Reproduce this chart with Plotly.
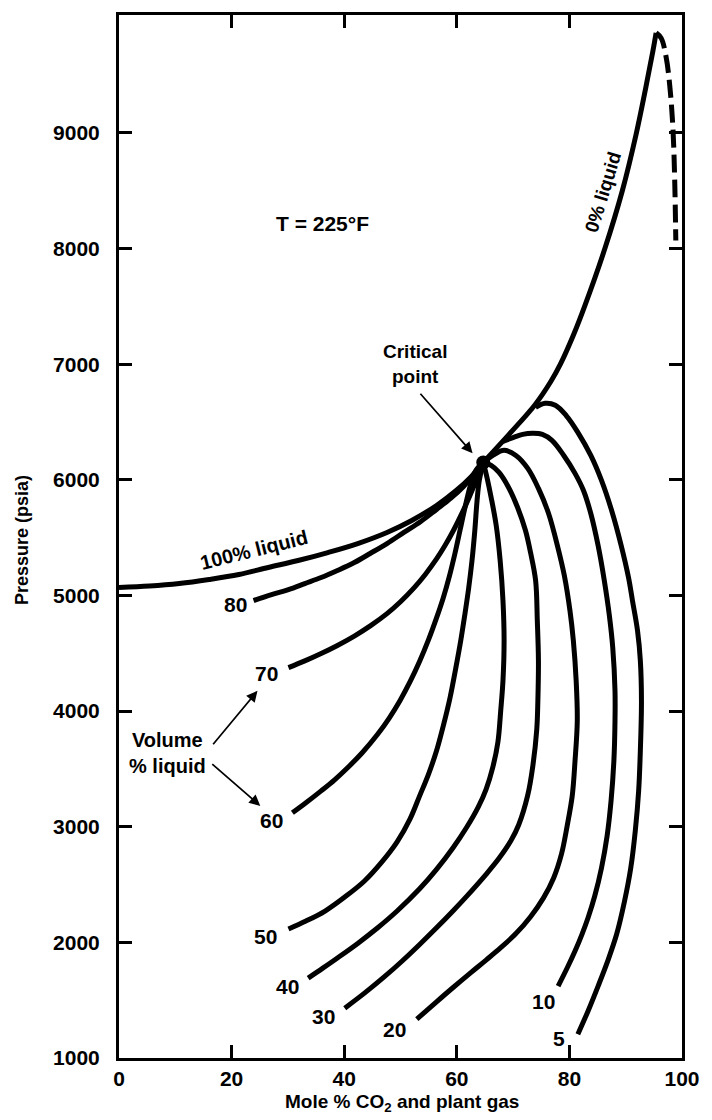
import plotly.graph_objects as go

# ---- data ----
crit_x = [64.7]
crit_y = [6150]

# 0% liquid (dew-point) line, solid part and dashed continuation
x_0 = [64.7, 69.4, 73.9, 76.7, 78.4, 80.7, 82.7, 86.3, 89.4, 91.9, 93.6, 94.8, 95.4]
y_0 = [6151, 6400, 6650, 6850, 7000, 7250, 7500, 8000, 8500, 9000, 9400, 9700, 9866]

x_0dash = [95.4, 96.3, 97.2, 97.9, 98.4, 98.7, 98.9]
y_0dash = [9866, 9820, 9650, 9370, 9030, 8600, 8070]

x_100 = [0, 5.4, 10.7, 16.0, 21.3, 26.5, 31.8, 37.1, 42.4, 47.6, 52.0, 56.4, 59.9, 62.6, 64.7]
y_100 = [5068, 5081, 5103, 5138, 5181, 5242, 5302, 5371, 5449, 5545, 5649, 5778, 5908, 6030, 6151]

x_80 = [23.9, 27.1, 30.1, 33.0, 35.9, 38.8, 41.8, 44.6, 47.6, 50.6, 53.6, 56.4, 58.9, 61.2, 62.9, 64.7]
y_80 = [4956, 5008, 5051, 5103, 5155, 5216, 5285, 5363, 5449, 5545, 5640, 5744, 5839, 5943, 6038, 6151]

x_70 = [30.1, 33.0, 35.9, 38.8, 41.8, 44.7, 47.6, 50.0, 52.4, 54.4, 56.4, 57.9, 59.4, 60.8, 62.2, 63.5, 64.7]
y_70 = [4376, 4434, 4498, 4568, 4649, 4739, 4843, 4946, 5066, 5182, 5316, 5432, 5562, 5699, 5850, 6003, 6151]

x_60 = [30.8, 33.2, 35.9, 38.3, 40.6, 43.2, 45.9, 48.0, 49.9, 51.7, 53.4, 55.0, 56.4, 57.6, 58.7, 59.7, 60.6, 61.5, 62.4, 63.4, 64.7]
y_60 = [3120, 3207, 3310, 3406, 3510, 3640, 3797, 3940, 4090, 4254, 4431, 4620, 4806, 4981, 5170, 5370, 5570, 5770, 5950, 6082, 6151]

x_50 = [30.1, 33.2, 36.6, 40.1, 43.6, 46.7, 49.4, 51.7, 53.4, 55.0, 56.4, 57.6, 58.8, 59.8, 60.7, 61.4, 62.1, 62.7, 63.2, 63.6, 64.0, 64.7]
y_50 = [2115, 2184, 2271, 2392, 2531, 2696, 2869, 3068, 3267, 3458, 3657, 3873, 4116, 4367, 4610, 4826, 5060, 5302, 5562, 5822, 5995, 6151]

x_40 = [33.6, 36.2, 38.8, 42.4, 45.9, 49.4, 53.4, 56.4, 59.4, 61.7, 63.8, 65.2, 66.4, 67.3, 67.8, 68.2, 68.4, 68.2, 67.7, 67.0, 66.1, 65.4, 64.7]
y_40 = [1691, 1777, 1865, 1991, 2124, 2271, 2463, 2631, 2823, 2991, 3170, 3324, 3516, 3732, 4003, 4263, 4610, 4956, 5302, 5605, 5848, 6012, 6151]

x_30 = [40.1, 43.6, 47.1, 50.3, 53.4, 56.4, 59.4, 61.7, 65.2, 67.5, 69.6, 71.0, 72.6, 73.5, 74.2, 74.4, 74.5, 74.3, 74.0, 73.1, 72.2, 70.8, 69.2, 67.5, 66.1, 64.7]
y_30 = [1431, 1561, 1701, 1839, 1982, 2126, 2276, 2396, 2589, 2727, 2878, 3017, 3273, 3525, 3840, 4090, 4436, 4783, 5129, 5371, 5562, 5761, 5934, 6064, 6125, 6151]

x_20 = [52.9, 56.4, 59.4, 62.6, 65.2, 67.8, 70.5, 73.1, 75.4, 77.2, 78.6, 79.6, 80.5, 81.0, 81.4, 81.2, 80.7, 80.1, 79.1, 78.0, 76.3, 74.5, 72.6, 70.5, 68.4, 66.4, 64.7]
y_20 = [1336, 1486, 1612, 1743, 1847, 1954, 2076, 2222, 2385, 2557, 2765, 3007, 3267, 3570, 3917, 4263, 4610, 4869, 5172, 5406, 5709, 5926, 6099, 6211, 6255, 6211, 6151]

x_10 = [78.0, 79.6, 81.0, 82.25, 83.3, 84.5, 85.7, 86.7, 87.4, 87.9, 88.1, 88.1, 87.7, 87.1, 86.2, 85.1, 83.8, 82.5, 81.0, 79.0, 76.9, 75.2, 73.5, 71.7, 70.1, 68.2]
y_10 = [1622, 1778, 1925, 2072, 2211, 2401, 2644, 2921, 3224, 3570, 3917, 4176, 4549, 4826, 5129, 5432, 5709, 5908, 6056, 6211, 6341, 6393, 6402, 6393, 6367, 6333]

x_5 = [81.5, 83.3, 85.1, 86.8, 88.4, 89.8, 90.9, 91.7, 92.3, 92.6, 92.8, 92.6, 92.1, 91.2, 90.5, 89.2, 87.5, 85.7, 83.8, 81.5, 79.4, 77.5, 75.7, 74.0]
y_5 = [1206, 1405, 1622, 1838, 2072, 2358, 2644, 2964, 3310, 3657, 4090, 4436, 4696, 4956, 5155, 5432, 5735, 5995, 6211, 6411, 6558, 6645, 6662, 6627]

x_ticks = [0, 20, 40, 60, 80, 100]
y_ticks = [1000, 2000, 3000, 4000, 5000, 6000, 7000, 8000, 9000]

curve_labels = ["80", "70", "60", "50", "40", "30", "20", "10", "5"]
label_x = [20.7, 26.2, 27.1, 26.0, 29.9, 36.4, 49.0, 75.4, 78.2]
label_y = [4921, 4324, 3051, 2055, 1622, 1362, 1249, 1492, 1171]

# ---- figure ----
FONT = "Liberation Sans"
BLK = "#000000"
LW = 5

fig = go.Figure()

solid = [(x_0, y_0), (x_100, y_100), (x_80, y_80), (x_70, y_70), (x_60, y_60),
         (x_50, y_50), (x_40, y_40), (x_30, y_30), (x_20, y_20), (x_10, y_10), (x_5, y_5)]
for xs, ys in solid:
    fig.add_trace(go.Scatter(x=xs, y=ys, mode="lines",
                             line=dict(color=BLK, width=LW, shape="spline", smoothing=1.0),
                             showlegend=False, hoverinfo="skip"))

fig.add_trace(go.Scatter(x=x_0dash, y=y_0dash, mode="lines",
                         line=dict(color=BLK, width=LW, shape="spline", smoothing=1.0,
                                   dash="18px,7px"),
                         showlegend=False, hoverinfo="skip"))

fig.add_trace(go.Scatter(x=crit_x, y=crit_y, mode="markers",
                         marker=dict(color=BLK, size=14),
                         showlegend=False, hoverinfo="skip"))

ann = []
for t, xx, yy in zip(curve_labels, label_x, label_y):
    ann.append(dict(x=xx, y=yy, xref="x", yref="y", text=t, showarrow=False,
                    font=dict(family=FONT, size=21, color=BLK, weight="bold")))

ann.append(dict(x=23.9, y=5390, xref="x", yref="y", text="100% liquid", showarrow=False,
                textangle=-14, font=dict(family=FONT, size=20, color=BLK, weight="bold")))
ann.append(dict(x=85.9, y=8489, xref="x", yref="y", text="0% liquid", showarrow=False,
                textangle=-73, font=dict(family=FONT, size=19, color=BLK, weight="bold")))
ann.append(dict(x=36.2, y=8221, xref="x", yref="y", text="T = 225°F", showarrow=False,
                font=dict(family=FONT, size=21, color=BLK, weight="bold")))
ann.append(dict(x=52.5, y=7000, xref="x", yref="y", text="Critical<br>point", showarrow=False,
                align="center", font=dict(family=FONT, size=19, color=BLK, weight="bold")))
ann.append(dict(x=8.6, y=3639, xref="x", yref="y", text="Volume<br>% liquid", showarrow=False,
                align="center", font=dict(family=FONT, size=20, color=BLK, weight="bold")))

# arrows
arrows = [((62.8, 6230), (53.3, 6757)),
          ((24.6, 4176), (16.5, 3700)),
          ((25.1, 3180), (16.3, 3553))]
for (hx, hy), (tx, ty) in arrows:
    ann.append(dict(x=hx, y=hy, ax=tx, ay=ty, xref="x", yref="y", axref="x", ayref="y",
                    text="", showarrow=True, arrowhead=2, arrowsize=1.3, arrowwidth=1.7,
                    arrowcolor=BLK))

# axis titles (placed by pixel position, converted to paper coords below)
ann.append(dict(x=21, y=540, xref="paper", yref="paper", text="Pressure (psia)",
                showarrow=False, textangle=-90, xanchor="center", yanchor="middle",
                font=dict(family=FONT, size=18, color=BLK, weight="bold")))
ann.append(dict(x=405, y=1103, xref="paper", yref="paper",
                text="Mole % CO<sub>2</sub> and plant gas", showarrow=False,
                xanchor="center", yanchor="middle",
                font=dict(family=FONT, size=19, color=BLK, weight="bold")))

W, H = 712, 1120
ML, MR, MT, MB = 119, 24, 15, 62
for a in ann:
    if a.get("xref") == "paper":
        a["x"] = (a["x"] - ML) / (W - ML - MR)
        a["y"] = 1 - (a["y"] - MT) / (H - MT - MB)

fig.update_layout(
    width=W, height=H,
    margin=dict(l=ML, r=MR, t=MT, b=MB, pad=0),
    paper_bgcolor="white", plot_bgcolor="white",
    annotations=ann,
    xaxis=dict(range=[0, 100], tickvals=x_ticks, ticks="inside", ticklen=13, tickwidth=2.5,
               tickcolor=BLK, showline=True, linewidth=3, linecolor=BLK, mirror="ticks",
               showgrid=False, zeroline=False,
               tickfont=dict(family=FONT, size=21, color=BLK, weight="bold")),
    yaxis=dict(range=[1000, 10020], tickvals=y_ticks, ticks="inside", ticklen=13, tickwidth=2.5,
               tickcolor=BLK, showline=True, linewidth=3, linecolor=BLK, mirror="ticks",
               showgrid=False, zeroline=False, ticklabelstandoff=12,
               tickfont=dict(family=FONT, size=21, color=BLK, weight="bold")),
)

fig.write_html("out.html")
